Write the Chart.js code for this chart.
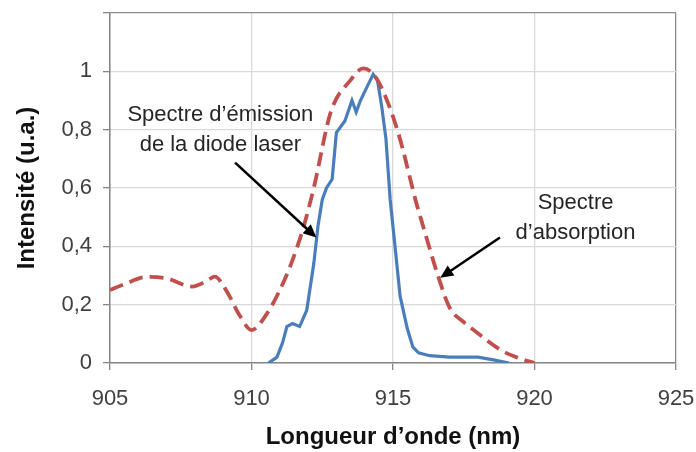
<!DOCTYPE html>
<html lang="fr">
<head>
  <meta charset="UTF-8" />
  <title>Spectres</title>
  <script src="https://cdn.jsdelivr.net/npm/chart.js"></script>
  <style>
    html, body { margin: 0; padding: 0; background: #fff; }
    #wrap { width: 696px; height: 452px; }
  </style>
</head>
<body>
  <div id="wrap"><canvas id="chart" width="696" height="452"></canvas></div>

  <script>
    // spectre d'absorption (pointillés rouges)
    const absX = [905, 905.5, 906.3, 907.0, 907.9, 908.4, 908.7, 909.1, 909.6, 910.0, 910.55, 911.0, 911.4, 911.85, 912.2, 912.8, 913.5, 913.95, 914.45, 915.15, 915.86, 916.0, 916.6, 917.0, 917.5, 917.85, 918.8, 919.5, 920.0];
    const absY = [0.25, 0.27, 0.295, 0.29, 0.262, 0.28, 0.296, 0.25, 0.16, 0.113, 0.17, 0.25, 0.34, 0.47, 0.6, 0.86, 0.97, 1.01, 0.97, 0.8, 0.536, 0.49, 0.296, 0.19, 0.14, 0.113, 0.045, 0.015, 0];

    // spectre d'émission de la diode (trait bleu)
    const emX = [910.6, 910.9, 911.1, 911.25, 911.45, 911.7, 911.95, 912.2, 912.35, 912.5, 912.65, 912.85, 913.0, 913.3, 913.55, 913.7, 913.85, 914.1, 914.3, 914.45, 914.6, 914.75, 914.9, 915.05, 915.25, 915.5, 915.7, 915.9, 916.3, 917.0, 918.0, 918.6, 919.1];
    const emY = [0, 0.02, 0.07, 0.125, 0.135, 0.125, 0.18, 0.34, 0.47, 0.56, 0.6, 0.63, 0.79, 0.83, 0.9, 0.86, 0.9, 0.95, 0.99, 0.97, 0.88, 0.77, 0.56, 0.42, 0.23, 0.12, 0.055, 0.035, 0.025, 0.02, 0.02, 0.01, 0];

    const xTicks = [905, 910, 915, 920, 925];
    const yTicks = [0, 0.2, 0.4, 0.6, 0.8, 1];

    // annotations : texte [x, y] et flèches [x0, y0, x1, y1] en unités du graphique
    const labelEmission = ['Spectre d\u2019émission', 'de la diode laser'];
    const labelEmissionPos = [908.9, 0.852];
    const arrowEmission = [909.42, 0.687, 912.29, 0.43];
    const labelAbsorption = ['Spectre', 'd\u2019absorption'];
    const labelAbsorptionPos = [921.45, 0.55];
    const arrowAbsorption = [918.78, 0.43, 916.67, 0.292];

    const FONT = "'Liberation Sans', Arial, sans-serif";
    const toPts = (xs, ys) => xs.map((x, i) => ({ x: x, y: ys[i] }));

    const annotations = {
      id: 'annotations',
      afterDatasetsDraw(chart) {
        const c = chart.ctx;
        const sx = chart.scales.x, sy = chart.scales.y;
        c.save();
        c.fillStyle = '#262626';
        c.font = '22px ' + FONT;
        c.textAlign = 'center';
        c.textBaseline = 'middle';
        const text = (lines, pos) => {
          const px = sx.getPixelForValue(pos[0]);
          const py = sy.getPixelForValue(pos[1]);
          lines.forEach((l, i) => c.fillText(l, px, py + i * 30));
        };
        text(labelEmission, labelEmissionPos);
        text(labelAbsorption, labelAbsorptionPos);

        const arrow = (a) => {
          const x0 = sx.getPixelForValue(a[0]), y0 = sy.getPixelForValue(a[1]);
          const x1 = sx.getPixelForValue(a[2]), y1 = sy.getPixelForValue(a[3]);
          const ang = Math.atan2(y1 - y0, x1 - x0);
          const hl = 13, hw = 6;
          c.strokeStyle = '#000';
          c.fillStyle = '#000';
          c.lineWidth = 2.5;
          c.beginPath();
          c.moveTo(x0, y0);
          c.lineTo(x1 - Math.cos(ang) * hl * 0.8, y1 - Math.sin(ang) * hl * 0.8);
          c.stroke();
          c.beginPath();
          c.moveTo(x1, y1);
          c.lineTo(x1 - Math.cos(ang) * hl - Math.sin(ang) * hw, y1 - Math.sin(ang) * hl + Math.cos(ang) * hw);
          c.lineTo(x1 - Math.cos(ang) * hl + Math.sin(ang) * hw, y1 - Math.sin(ang) * hl - Math.cos(ang) * hw);
          c.closePath();
          c.fill();
        };
        arrow(arrowEmission);
        arrow(arrowAbsorption);
        c.restore();
      }
    };

    const ctx = document.getElementById('chart').getContext('2d');

    new Chart(ctx, {
      type: 'line',
      data: {
        datasets: [
          {
            label: 'Absorption',
            data: toPts(absX, absY),
            borderColor: '#c0504d',
            borderWidth: 3.8,
            borderDash: [14, 7],
            pointRadius: 0,
            tension: 0.4,
            cubicInterpolationMode: 'monotone',
            fill: false
          },
          {
            label: 'Émission',
            data: toPts(emX, emY),
            borderColor: '#4a7ebb',
            borderWidth: 3.2,
            pointRadius: 0,
            tension: 0,
            fill: false
          }
        ]
      },
      options: {
        responsive: false,
        animation: false,
        layout: { padding: { left: 0, right: 20, top: 13, bottom: 0 } },
        plugins: { legend: { display: false }, tooltip: { enabled: false } },
        scales: {
          x: {
            type: 'linear',
            min: 905,
            max: 925,
            afterBuildTicks: (s) => { s.ticks = xTicks.map(v => ({ value: v })); },
            afterFit: (s) => { s.height = 89; s.paddingLeft = 0; s.paddingRight = 0; },
            ticks: {
              color: '#404040',
              font: { family: FONT, size: 22 },
              padding: 16,
              maxRotation: 0
            },
            grid: {
              color: (c) => c.tick && c.tick.value === 925 ? '#8c8c8c' : '#d9d9d9',
              tickColor: '#868686',
              tickLength: 7,
              lineWidth: 1.3
            },
            border: { color: '#868686', width: 1.5 },
            title: {
              display: true,
              text: 'Longueur d\u2019onde (nm)',
              color: '#111',
              font: { family: FONT, size: 24, weight: 'bold' },
              padding: { top: 0, bottom: 0 }
            }
          },
          y: {
            min: 0,
            max: 1.2,
            afterBuildTicks: (s) => { s.ticks = yTicks.concat([1.2]).map(v => ({ value: v })); },
            afterFit: (s) => { s.width = 110; s.paddingTop = 0; s.paddingBottom = 0; },
            ticks: {
              color: '#404040',
              font: { family: FONT, size: 22 },
              padding: 11,
              callback: (v) => v > 1.1 ? '' : (v === 1 || v === 0 ? String(v) : v.toFixed(1).replace('.', ','))
            },
            grid: {
              color: (c) => c.tick && c.tick.value > 1.1 ? '#8c8c8c' : '#d9d9d9',
              tickColor: '#868686',
              tickLength: 7,
              lineWidth: 1.3
            },
            border: { color: '#868686', width: 1.5 },
            title: {
              display: true,
              text: 'Intensité (u.a.)',
              color: '#111',
              font: { family: FONT, size: 24, weight: 'bold' },
              padding: { top: 13, bottom: 0 }
            }
          }
        }
      },
      plugins: [annotations]
    });
  </script>
</body>
</html>
